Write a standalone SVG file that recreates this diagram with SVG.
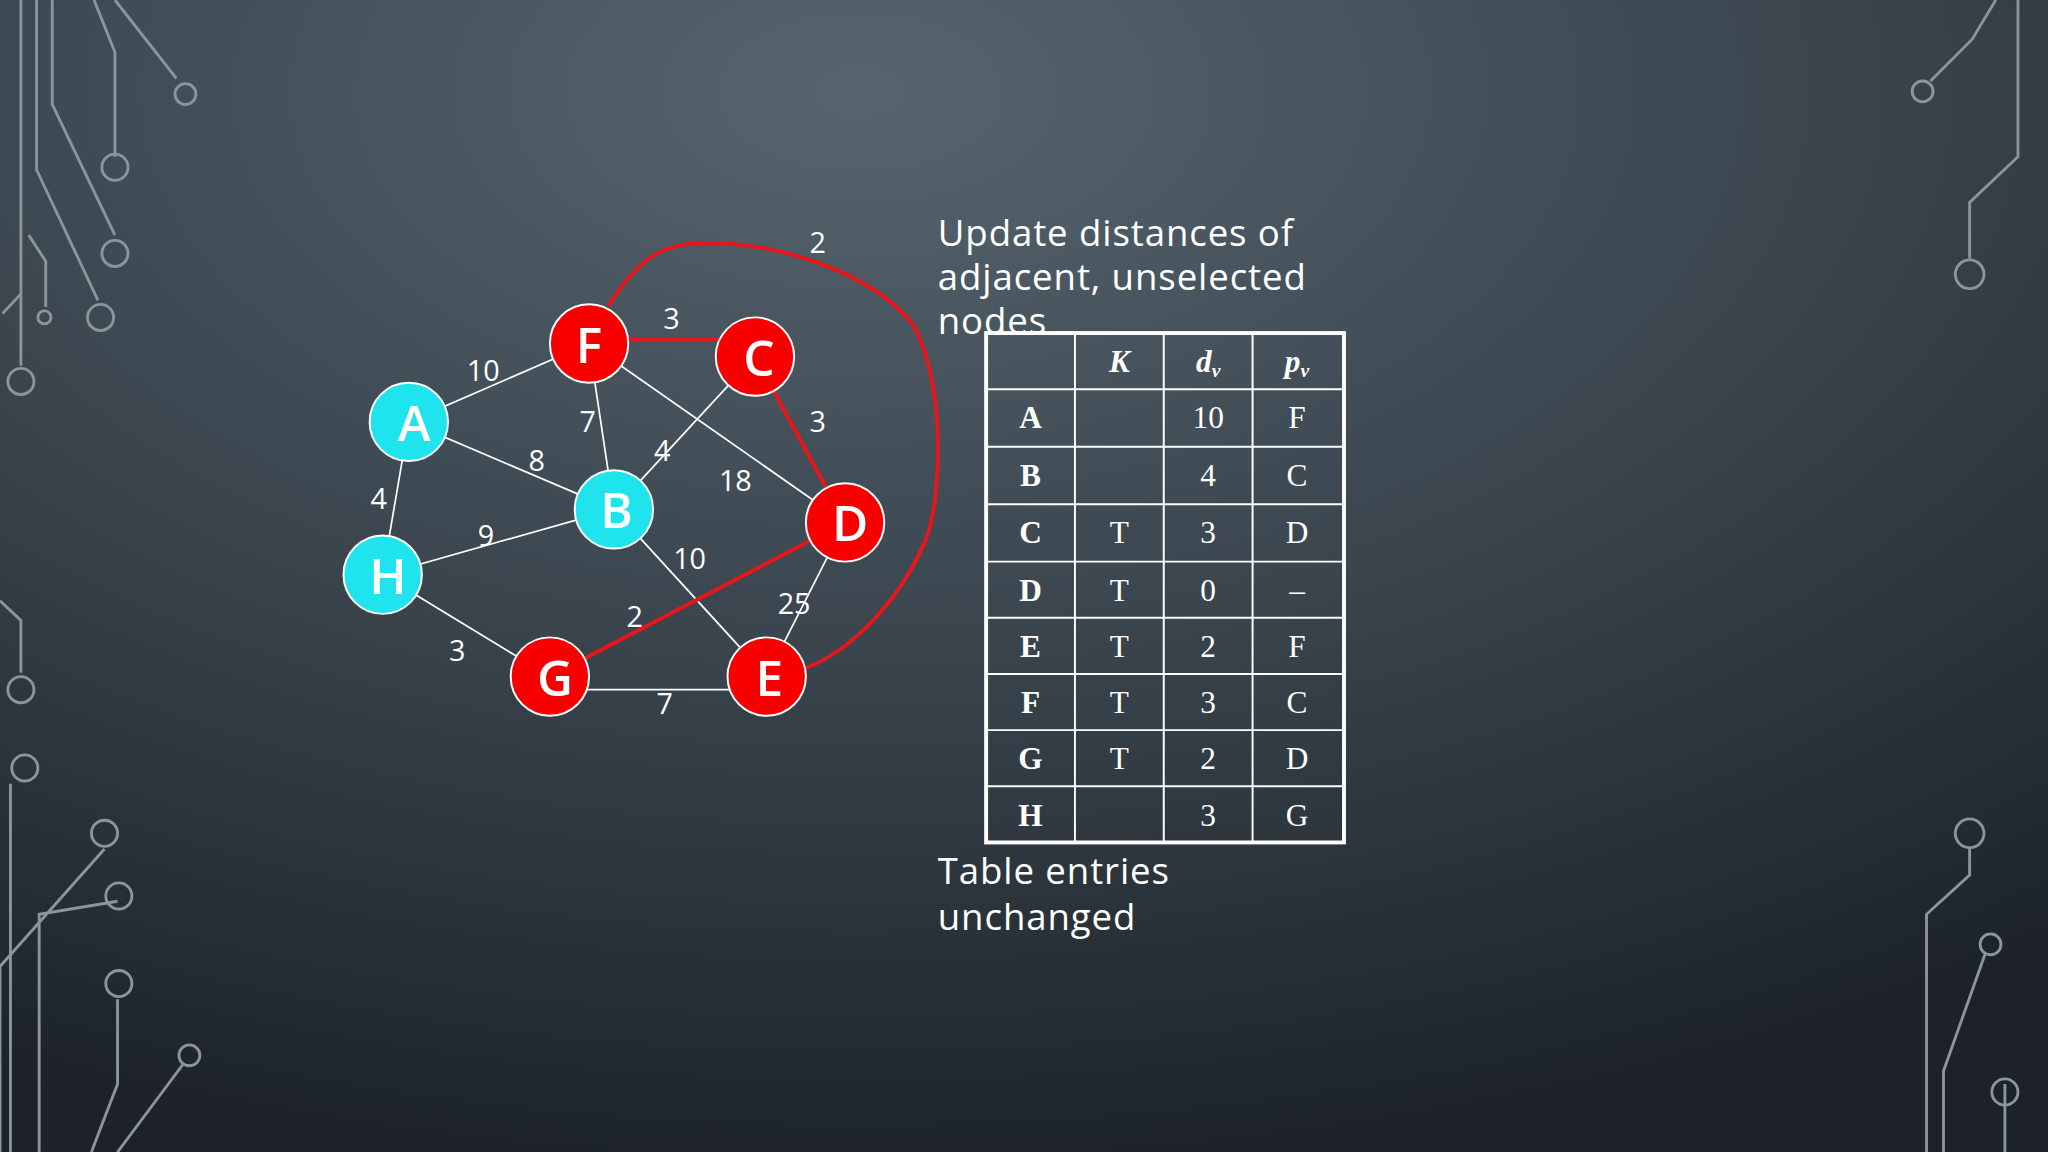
<svg xmlns="http://www.w3.org/2000/svg" width="2048" height="1152" viewBox="0 0 2048 1152">
<defs>
<radialGradient id="bg" cx="0.42" cy="0.08" r="0.95">
<stop offset="0" stop-color="#56656f"/><stop offset="0.5" stop-color="#3a454e"/><stop offset="1" stop-color="#1c2227"/>
</radialGradient>
<style>
.w{stroke:#fff;stroke-width:1.3;fill:none}
.r{stroke:#e8161b;stroke-width:3;fill:none}
.ci{stroke:#8a959c;stroke-width:2.2;fill:none}
.nr{fill:#f80000;stroke:#fff;stroke-width:1.5}
.nc{fill:#1fe4ee;stroke:#fff;stroke-width:1.5}
.nl{font-family:"Open Sans","DejaVu Sans",sans-serif;font-size:38px;font-weight:600;fill:#fff;text-anchor:middle;dominant-baseline:central}
.el{font-family:"Open Sans","DejaVu Sans",sans-serif;font-size:22px;fill:#fff;text-anchor:middle;dominant-baseline:central}
.tx{font-family:"Open Sans","DejaVu Sans",sans-serif;font-size:28px;fill:#fff;letter-spacing:0.7px}
.tb{font-family:"Liberation Serif",serif;font-size:24px;fill:#fff;text-anchor:middle;dominant-baseline:central}
.b{font-weight:bold}
.tl{stroke:#fff;stroke-width:1.5}
</style>
</defs>
<rect width="2048" height="1152" fill="url(#bg)"/>
<g transform="scale(1.30612)">
<g id="circuit" class="ci">
<path d="M16,0V280M28,0V130L75,230M40,0V80L88,180M72,0L88,40V120M88,0L135,60M2,240L16,225M22,180L35,200V235"/>
<circle cx="16" cy="292" r="10"/><circle cx="77" cy="243" r="10"/><circle cx="88" cy="194" r="10"/><circle cx="88" cy="128" r="10"/><circle cx="142" cy="72" r="8"/><circle cx="34" cy="243" r="5"/>
<path d="M0,460L16,475V515M0,882V740L80,650M30,882V700L90,690M70,882L90,830V765M90,882L140,815M8,882V600"/>
<circle cx="16" cy="528" r="10"/><circle cx="19" cy="588" r="10"/><circle cx="80" cy="638" r="10"/><circle cx="91" cy="686" r="10"/><circle cx="91" cy="753" r="10"/><circle cx="145" cy="808" r="8"/>
<path d="M1528,0L1510,30L1478,62M1545,0V120L1508,155V198M1475,882V700L1508,670V650M1488,882V820L1520,730M1535,830V882"/>
<circle cx="1472" cy="70" r="8"/><circle cx="1508" cy="210" r="11"/><circle cx="1508" cy="638" r="11"/><circle cx="1524" cy="723" r="8"/><circle cx="1535" cy="836" r="10"/>
</g>
<g id="connectors">
<line class="w" x1="451" y1="263" x2="313" y2="323"/>
<line class="w" x1="451" y1="263" x2="470" y2="390"/>
<line class="w" x1="451" y1="263" x2="647" y2="400"/>
<line class="w" x1="578" y1="273" x2="470" y2="390"/>
<line class="w" x1="313" y1="323" x2="470" y2="390"/>
<line class="w" x1="313" y1="323" x2="293" y2="440"/>
<line class="w" x1="293" y1="440" x2="470" y2="390"/>
<line class="w" x1="470" y1="390" x2="587" y2="518"/>
<line class="w" x1="647" y1="400" x2="587" y2="518"/>
<line class="w" x1="293" y1="440" x2="421" y2="518"/>
<line class="w" x1="421" y1="528" x2="587" y2="528"/>
<line class="r" x1="451" y1="260" x2="578" y2="260"/>
<line class="r" x1="578" y1="273" x2="647" y2="400"/>
<line class="r" x1="421" y1="518" x2="647" y2="400"/>
<path class="r" d="M466,234C490,195 510,186 540,186C600,186 670,210 700,250C725,300 720,380 710,410C690,460 650,500 615,512"/>
<text class="el" x="514" y="243">3</text><text class="el" x="626" y="322">3</text>
<text class="el" x="370" y="283">10</text><text class="el" x="450" y="322">7</text>
<text class="el" x="507" y="344">4</text><text class="el" x="563" y="367">18</text>
<text class="el" x="411" y="352">8</text><text class="el" x="290" y="381">4</text>
<text class="el" x="372" y="409">9</text><text class="el" x="528" y="427">10</text>
<text class="el" x="486" y="471">2</text><text class="el" x="608" y="461">25</text>
<text class="el" x="350" y="497">3</text><text class="el" x="509" y="538">7</text>
<text class="el" x="626" y="185">2</text>
</g>
<g id="F"><circle class="nr" cx="451" cy="263" r="30"/><text class="nl" x="451" y="263">F</text></g>
<g id="C"><circle class="nr" cx="578" cy="273" r="30"/><text class="nl" x="581" y="273">C</text></g>
<g id="A"><circle class="nc" cx="313" cy="323" r="30"/><text class="nl" x="317" y="323">A</text></g>
<g id="B"><circle class="nc" cx="470" cy="390" r="30"/><text class="nl" x="472" y="390">B</text></g>
<g id="D"><circle class="nr" cx="647" cy="400" r="30"/><text class="nl" x="651" y="400">D</text></g>
<g id="H"><circle class="nc" cx="293" cy="440" r="30"/><text class="nl" x="297" y="440">H</text></g>
<g id="G"><circle class="nr" cx="421" cy="518" r="30"/><text class="nl" x="425" y="518">G</text></g>
<g id="E"><circle class="nr" cx="587" cy="518" r="30"/><text class="nl" x="589" y="518">E</text></g>
<g id="texts">
<text class="tx" x="718" y="188">Update distances of</text>
<text class="tx" x="718" y="222">adjacent, unselected</text>
<text class="tx" x="718" y="256">nodes</text>
<text class="tx" x="718" y="677">Table entries</text>
<text class="tx" x="718" y="712">unchanged</text>
</g>
<g id="table">
<rect x="755" y="255" width="274" height="390" fill="none" stroke="#fff" stroke-width="3"/>
<path class="tl" d="M823,255V645M891,255V645M959,255V645M755,298H1029M755,342H1029M755,386H1029M755,430H1029M755,473H1029M755,516H1029M755,559H1029M755,602H1029"/>
<text class="tb b" x="857" y="277" font-style="italic">K</text>
<text class="tb b" x="925" y="277" font-style="italic">d<tspan font-size="15" dy="6">v</tspan></text>
<text class="tb b" x="993" y="277" font-style="italic">p<tspan font-size="15" dy="6">v</tspan></text>
<text class="tb b" x="789" y="320">A</text><text class="tb" x="925" y="320">10</text><text class="tb" x="993" y="320">F</text>
<text class="tb b" x="789" y="364">B</text><text class="tb" x="925" y="364">4</text><text class="tb" x="993" y="364">C</text>
<text class="tb b" x="789" y="408">C</text><text class="tb" x="857" y="408">T</text><text class="tb" x="925" y="408">3</text><text class="tb" x="993" y="408">D</text>
<text class="tb b" x="789" y="452">D</text><text class="tb" x="857" y="452">T</text><text class="tb" x="925" y="452">0</text><text class="tb" x="993" y="452">–</text>
<text class="tb b" x="789" y="495">E</text><text class="tb" x="857" y="495">T</text><text class="tb" x="925" y="495">2</text><text class="tb" x="993" y="495">F</text>
<text class="tb b" x="789" y="538">F</text><text class="tb" x="857" y="538">T</text><text class="tb" x="925" y="538">3</text><text class="tb" x="993" y="538">C</text>
<text class="tb b" x="789" y="581">G</text><text class="tb" x="857" y="581">T</text><text class="tb" x="925" y="581">2</text><text class="tb" x="993" y="581">D</text>
<text class="tb b" x="789" y="624">H</text><text class="tb" x="925" y="624">3</text><text class="tb" x="993" y="624">G</text>
</g>
</g>
</svg>
